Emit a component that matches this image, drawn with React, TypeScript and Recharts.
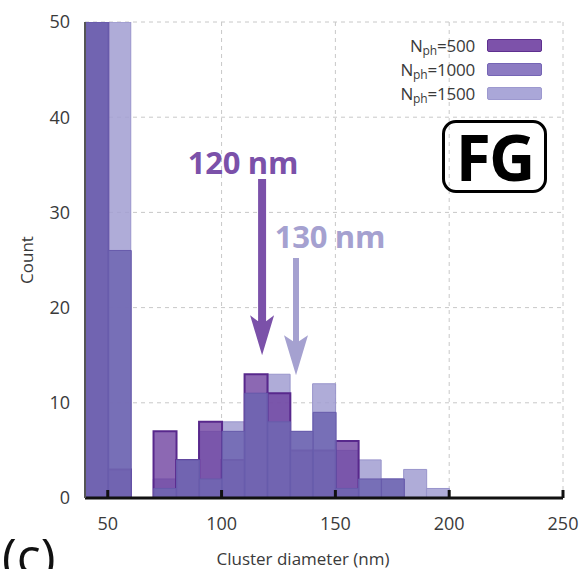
import React from 'react';
import {
  BarChart,
  Bar,
  XAxis,
  YAxis,
  CartesianGrid,
  ReferenceLine,
  ReferenceDot,
  Label,
} from 'recharts';

// histogram bins (lower edge, nm) – plotted at bin centres
const binStarts = [40, 50, 60, 70, 80, 90, 100, 110, 120, 130, 140, 150, 160, 170, 180, 190];
const n500 = [50, 3, 0, 7, 4, 8, 4, 13, 11, 5, 5, 6, 0, 0, 0, 0];
const n1000 = [50, 26, 0, 1, 4, 2, 7, 11, 8, 7, 9, 1, 2, 2, 0, 0];
const n1500 = [50, 50, 0, 2, 4, 7, 8, 11, 13, 7, 12, 5, 4, 2, 3, 1];

const xTicks = [50, 100, 150, 200, 250];
const yTicks = [0, 10, 20, 30, 40, 50];

const seriesNames = ['500', '1000', '1500'];

// annotation arrows: x (nm), from count, to count
const arrowX = [117.8, 132.7];
const arrowFrom = [33.5, 25.2];
const arrowTo = [15.0, 12.9];
const arrowLabels = ['120 nm', '130 nm'];
const labelX = [109.4, 147.6];
const labelY = [34.0, 26.3];

const data = binStarts.map((b, i) => ({
  x: b + 5,
  n500: n500[i],
  n1000: n1000[i],
  n1500: n1500[i],
}));

const COLORS = {
  n500: { fill: '#6b3d9e', stroke: '#58288c', op: 0.78 },
  n1000: { fill: '#7066b2', stroke: '#675bab', op: 0.88 },
  n1500: { fill: '#a19ed1', stroke: '#9894cb', op: 0.85 },
};
const LEGEND_SW = [
  { fill: '#7d52aa', stroke: '#5e2f8f' },
  { fill: '#8c7bc2', stroke: '#7565b5' },
  { fill: '#aaa7d8', stroke: '#9d99cf' },
];
const ARROW_COLORS = ['#7b51a9', '#a5a1d0'];
const ARROW_W = [8, 6];

const FONT = '"Open Sans", "Noto Sans", sans-serif';

const makeArrow = (idx: number) => (props: any) => {
  const { x1, y1, y2 } = props;
  const x = x1;
  const w = ARROW_W[idx];
  const hw = 24;
  const hl = 40;
  const pts = [
    [x - w / 2, y1],
    [x + w / 2, y1],
    [x + w / 2, y2 - hl + 6],
    [x + hw / 2, y2 - hl],
    [x, y2],
    [x - hw / 2, y2 - hl],
    [x - w / 2, y2 - hl + 6],
  ]
    .map((p) => p.join(','))
    .join(' ');
  return <polygon points={pts} fill={ARROW_COLORS[idx]} />;
};

const makeText = (idx: number) => (props: any) => {
  const { cx, cy } = props;
  return (
    <text
      x={cx}
      y={cy}
      textAnchor="middle"
      fontFamily={FONT}
      fontWeight={700}
      fontSize={31}
      letterSpacing={-0.3}
      fill={ARROW_COLORS[idx]}
    >
      {arrowLabels[idx]}
    </text>
  );
};

const LegendBox = () => (
  <div
    style={{
      position: 'absolute',
      top: 33,
      left: 370,
      width: 172,
      fontFamily: FONT,
      color: '#3a3a3a',
    }}
  >
    {seriesNames.map((n, i) => (
      <div
        key={n}
        style={{
          display: 'flex',
          justifyContent: 'flex-end',
          alignItems: 'center',
          height: 24,
        }}
      >
        <span style={{ fontSize: 17, lineHeight: '15px', letterSpacing: -0.2 }}>
          N
          <span style={{ fontSize: 12, position: 'relative', top: 3, lineHeight: '9px' }}>ph</span>
          ={n}
        </span>
        <span
          style={{
            display: 'inline-block',
            width: 53,
            height: 11,
            marginLeft: 12,
            background: LEGEND_SW[i].fill,
            border: `1.5px solid ${LEGEND_SW[i].stroke}`,
            borderRadius: 2,
          }}
        />
      </div>
    ))}
  </div>
);

export default function App() {
  return (
    <div
      style={{
        position: 'absolute',
        left: 0,
        top: 0,
        width: 582,
        height: 569,
        overflow: 'hidden',
        background: '#fff',
      }}
    >
      <BarChart
        width={582}
        height={569}
        data={data}
        margin={{ top: 22, right: 19, left: 0, bottom: 0 }}
        barCategoryGap={0}
        barGap="-100%"
      >
        <CartesianGrid strokeDasharray="4 4" stroke="#c8c8c8" />
        <XAxis
          dataKey="x"
          type="number"
          domain={[40, 250]}
          ticks={xTicks}
          allowDataOverflow
          height={71}
          axisLine={{ stroke: '#111', strokeWidth: 3 }}
          tickLine={{ stroke: '#111', strokeWidth: 3 }}
          tickSize={-8}
          tickMargin={27}
          tick={{ fontSize: 18, fill: '#3a3a3a', fontFamily: FONT }}
        >
          <Label
            value="Cluster diameter (nm)"
            position="insideBottom"
            offset={4}
            dx={-21}
            style={{ fontSize: 17, fill: '#3a3a3a', fontFamily: FONT }}
          />
        </XAxis>
        <YAxis
          domain={[0, 50]}
          ticks={yTicks}
          allowDataOverflow
          width={85}
          axisLine={{ stroke: '#555', strokeWidth: 2 }}
          tickLine={false}
          tickMargin={9}
          tick={{ fontSize: 18, fill: '#3a3a3a', fontFamily: FONT }}
          label={{
            content: (p: any) => {
              const vb = p.viewBox || {};
              const cy = (vb.y || 22) + (vb.height || 476) / 2;
              return (
                <text
                  x={26}
                  y={cy}
                  transform={`rotate(-90, 26, ${cy})`}
                  textAnchor="middle"
                  dominantBaseline="central"
                  fontSize={17}
                  fill="#3a3a3a"
                  fontFamily={FONT}
                >
                  Count
                </text>
              );
            },
          }}
        />
        <Bar
          dataKey="n1500"
          fill={COLORS.n1500.fill}
          fillOpacity={COLORS.n1500.op}
          stroke={COLORS.n1500.stroke}
          strokeWidth={1}
          isAnimationActive={false}
        />
        <Bar
          dataKey="n500"
          fill={COLORS.n500.fill}
          fillOpacity={COLORS.n500.op}
          stroke={COLORS.n500.stroke}
          strokeWidth={2}
          isAnimationActive={false}
        />
        <Bar
          dataKey="n1000"
          fill={COLORS.n1000.fill}
          fillOpacity={COLORS.n1000.op}
          stroke={COLORS.n1000.stroke}
          strokeWidth={1}
          isAnimationActive={false}
        />
        {arrowX.map((ax, i) => (
          <ReferenceLine
            key={'a' + i}
            segment={[
              { x: ax, y: arrowFrom[i] },
              { x: ax, y: arrowTo[i] },
            ]}
            shape={makeArrow(i)}
          />
        ))}
        {labelX.map((lx, i) => (
          <ReferenceDot key={'t' + i} x={lx} y={labelY[i]} r={0} shape={makeText(i)} />
        ))}
      </BarChart>
      <LegendBox />
      <div
        style={{
          position: 'absolute',
          left: 442,
          top: 120,
          width: 105,
          height: 73,
          boxSizing: 'border-box',
          border: '3.5px solid #000',
          borderRadius: 14,
          display: 'flex',
          alignItems: 'center',
          justifyContent: 'center',
          fontFamily: FONT,
          fontWeight: 700,
          fontSize: 64,
          lineHeight: 1,
          color: '#000',
          letterSpacing: -2,
        }}
      >
        FG
      </div>
      <div
        style={{
          position: 'absolute',
          left: 2,
          top: 530,
          fontFamily: FONT,
          fontSize: 50,
          lineHeight: 1,
          color: '#111',
        }}
      >
        (c)
      </div>
    </div>
  );
}
